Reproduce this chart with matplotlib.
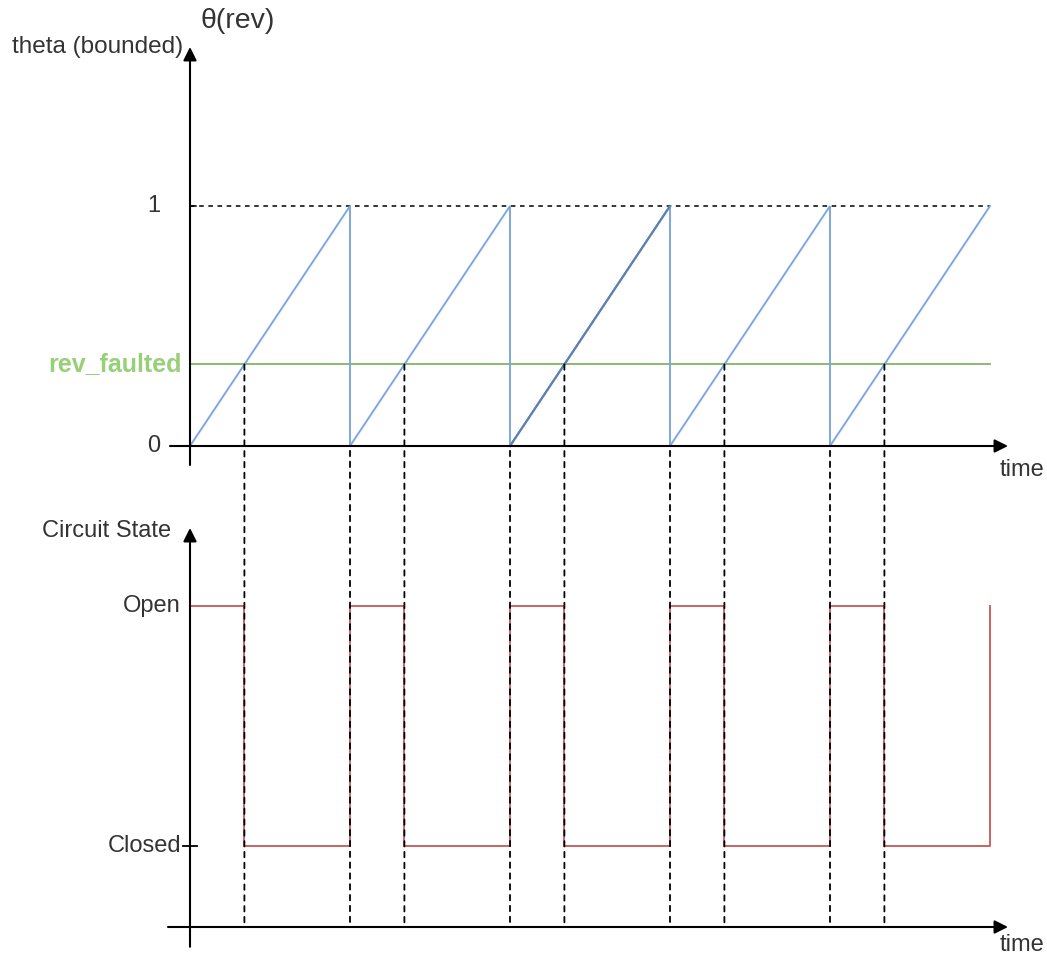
import matplotlib
matplotlib.use("Agg")
import matplotlib.pyplot as plt
from matplotlib.patches import ConnectionPatch

# ---------------- data ----------------
ramp_t = [0, 1, 1, 2, 2, 3, 3, 4, 4, 5]
ramp_theta = [0, 1, 0, 1, 0, 1, 0, 1, 0, 1]
rev_faulted = 0.34
cycle_starts = [0, 1, 2, 3, 4]
cycle_end = 5
state_t = [0, 0.34, 1, 1.34, 2, 2.34, 3, 3.34, 4, 4.34, 5]
state_val = [1, 0, 1, 0, 1, 0, 1, 0, 1, 0, 1]
fault_times = [0.34, 1.34, 2.34, 3.34, 4.34]
wrap_times = [1, 2, 3, 4]
top_ticks = [0, 1]
top_tick_labels = ["0", "1"]
state_ticks = [1, 0]
state_tick_labels = ["Open", "Closed"]

# ---------------- figure ----------------
W, H = 1047, 959
fig = plt.figure(figsize=(W / 100, H / 100), dpi=100)
FONT = "Liberation Sans"
FS = 17

px_per_t = 160.0
px_per_y = 240.0
x0_px = 190.0
xlim = (-x0_px / px_per_t, (W - x0_px) / px_per_t)

split = 490.0
ax_top = fig.add_axes([0, (H - split) / H, 1, split / H])
ax_top.set_xlim(*xlim)
ax_top.set_ylim(-(split - 446) / px_per_y, 446 / px_per_y)

ax_bot = fig.add_axes([0, 0, 1, (H - split) / H])
ax_bot.set_xlim(*xlim)
ax_bot.set_ylim(-(H - 846) / px_per_y, (846 - split) / px_per_y)

for a in (ax_top, ax_bot):
    a.axis("off")

BLUE = "#7EA6E0"
BLUE_DARK = "#5f7fae"
GREEN = "#82b366"
GREEN_TXT = "#97D077"
RED = "#cc6363"
TXT = "#333333"
dash = (0, (3, 3))

arrow_kw = dict(arrowstyle="-|>", color="black", lw=1.5,
                mutation_scale=20, shrinkA=0, shrinkB=0)

# ---- top chart ----
ax_top.annotate("", xy=(0, 1.6625), xytext=(0, -0.079), arrowprops=arrow_kw)
ax_top.annotate("", xy=(5.1125, 0), xytext=(-0.125, 0), arrowprops=arrow_kw)

# dashed line at theta = 1
ax_top.plot([0, cycle_end], [1, 1], color="black", lw=1.1, linestyle=dash)
ax_top.plot([0, 0.04], [1, 1], color="black", lw=1.1)
# rev_faulted line
ax_top.plot([0, cycle_end], [rev_faulted, rev_faulted], color=GREEN, lw=1.3)
# ramps
ax_top.plot(ramp_t, ramp_theta, color=BLUE, lw=1.4, solid_joinstyle="miter")
ax_top.plot(ramp_t[4:6], ramp_theta[4:6], color=BLUE_DARK, lw=1.6)

for yv, lab in zip(top_ticks, top_tick_labels):
    ax_top.text(-0.1875, yv, lab, ha="right", va="center", fontsize=FS,
                color=TXT, family=FONT)
ax_top.text(-0.05, rev_faulted, "rev_faulted", ha="right", va="center",
            fontsize=18, color=GREEN_TXT, family=FONT, fontweight="bold")
ax_top.text(-0.044, 1.6625, "theta (bounded)", ha="right", va="center",
            fontsize=17.5, color=TXT, family=FONT)
ax_top.text(0.0625, 1.77, "θ(rev)", ha="left", va="center",
            fontsize=20.5, color=TXT, family=FONT)
ax_top.text(5.0625, -0.1, "time", ha="left", va="center",
            fontsize=FS, color=TXT, family=FONT)

# ---- bottom chart ----
axis_y_bot = -0.3375
ax_bot.annotate("", xy=(0, 1.325), xytext=(0, -0.42), arrowprops=arrow_kw)
ax_bot.annotate("", xy=(5.1125, axis_y_bot), xytext=(-0.1375, axis_y_bot),
                arrowprops=arrow_kw)
ax_bot.plot([-0.045, 0.045], [0, 0], color="black", lw=1.3)

ax_bot.plot(state_t, state_val, drawstyle="steps-post", color=RED, lw=1.4)

for yv, lab in zip(state_ticks, state_tick_labels):
    ax_bot.text(-0.056, yv, lab, ha="right", va="center", fontsize=FS,
                color=TXT, family=FONT)
ax_bot.text(-0.119, 1.3125, "Circuit State", ha="right", va="center",
            fontsize=FS, color=TXT, family=FONT)
ax_bot.text(5.0625, -0.4125, "time", ha="left", va="center",
            fontsize=FS, color=TXT, family=FONT)

# ---- dashed connectors ----
for t in fault_times:
    con = ConnectionPatch(xyA=(t, rev_faulted), coordsA="data", axesA=ax_top,
                          xyB=(t, axis_y_bot), coordsB="data", axesB=ax_bot,
                          color="black", lw=1.3, linestyle=dash)
    fig.add_artist(con)
for t in wrap_times:
    con = ConnectionPatch(xyA=(t, -0.02), coordsA="data", axesA=ax_top,
                          xyB=(t, axis_y_bot), coordsB="data", axesB=ax_bot,
                          color="black", lw=1.3, linestyle=dash)
    fig.add_artist(con)

fig.savefig("out.png", dpi=100, facecolor="white")
